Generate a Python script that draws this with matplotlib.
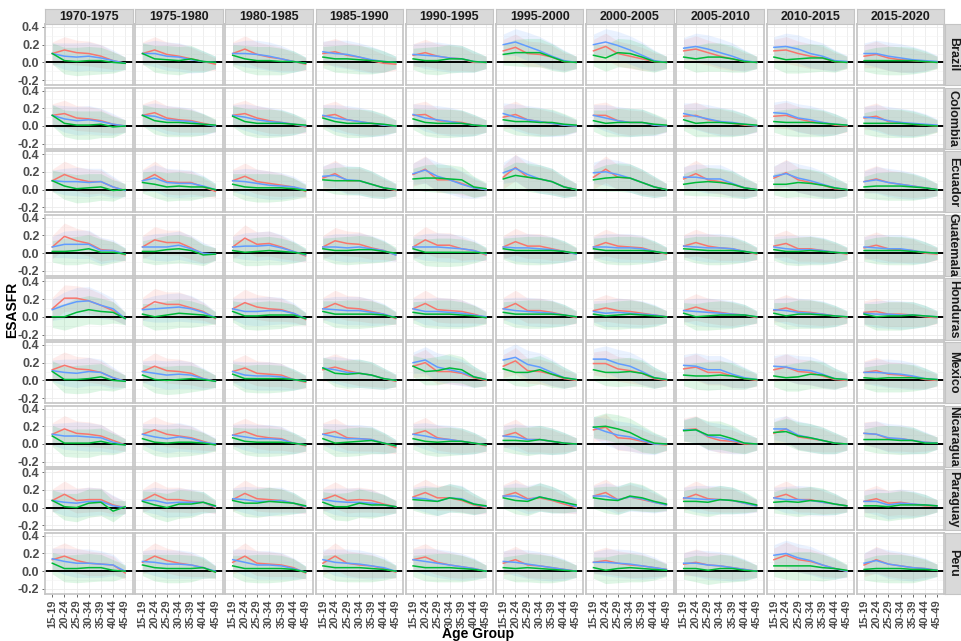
import numpy as np
import matplotlib.pyplot as plt

plt.rcParams['font.family'] = ['Liberation Sans', 'DejaVu Sans']

ages = ['15-19', '20-24', '25-29', '30-34', '35-39', '40-44', '45-49']
periods = ['1970-1975', '1975-1980', '1980-1985', '1985-1990', '1990-1995',
           '1995-2000', '2000-2005', '2005-2010', '2010-2015', '2015-2020']
countries = ['Brazil', 'Colombia', 'Ecuador', 'Guatemala', 'Honduras',
             'Mexico', 'Nicaragua', 'Paraguay', 'Peru']

# half width of the confidence ribbons, by age group
hw_red = [0.13, 0.15, 0.14, 0.14, 0.13, 0.10, 0.07]
hw_blue = [0.12, 0.15, 0.16, 0.16, 0.15, 0.12, 0.07]
hw_green = [0.12, 0.15, 0.16, 0.16, 0.15, 0.12, 0.07]

# one row per period, one value per age group
brazil_red = [
    [0.10, 0.14, 0.11, 0.10, 0.07, 0.02, -0.01],
    [0.10, 0.14, 0.09, 0.07, 0.04, 0.01, -0.02],
    [0.10, 0.15, 0.09, 0.06, 0.04, 0.01, -0.02],
    [0.10, 0.12, 0.08, 0.06, 0.02, -0.01, -0.02],
    [0.08, 0.11, 0.07, 0.05, 0.04, 0.00, 0.00],
    [0.13, 0.17, 0.10, 0.09, 0.06, 0.01, 0.00],
    [0.13, 0.18, 0.10, 0.07, 0.04, 0.01, 0.00],
    [0.13, 0.15, 0.11, 0.07, 0.04, 0.01, 0.00],
    [0.13, 0.14, 0.10, 0.07, 0.05, 0.01, 0.00],
    [0.07, 0.09, 0.05, 0.03, 0.02, 0.01, 0.00]]
brazil_blue = [
    [0.10, 0.07, 0.06, 0.07, 0.05, 0.02, -0.01],
    [0.10, 0.10, 0.07, 0.06, 0.03, 0.01, 0.00],
    [0.10, 0.10, 0.09, 0.07, 0.04, 0.01, -0.01],
    [0.12, 0.10, 0.09, 0.06, 0.03, 0.01, 0.00],
    [0.09, 0.08, 0.07, 0.05, 0.04, 0.01, 0.00],
    [0.20, 0.23, 0.18, 0.13, 0.07, 0.02, 0.00],
    [0.20, 0.23, 0.19, 0.14, 0.08, 0.02, 0.00],
    [0.16, 0.18, 0.15, 0.11, 0.07, 0.02, 0.00],
    [0.17, 0.18, 0.15, 0.10, 0.07, 0.02, 0.01],
    [0.10, 0.10, 0.07, 0.05, 0.03, 0.02, 0.01]]
brazil_green = [
    [0.10, 0.02, 0.01, 0.02, 0.02, 0.00, -0.01],
    [0.10, 0.04, 0.03, 0.02, 0.04, 0.01, 0.00],
    [0.08, 0.04, 0.02, 0.02, 0.01, 0.01, -0.01],
    [0.06, 0.04, 0.04, 0.03, 0.02, 0.01, 0.00],
    [0.04, 0.02, 0.02, 0.04, 0.04, 0.01, 0.00],
    [0.09, 0.11, 0.11, 0.11, 0.06, 0.01, 0.00],
    [0.08, 0.05, 0.11, 0.10, 0.06, 0.01, 0.00],
    [0.06, 0.04, 0.06, 0.06, 0.04, 0.01, 0.00],
    [0.06, 0.03, 0.04, 0.05, 0.05, 0.01, 0.00],
    [0.02, 0.02, 0.02, 0.02, 0.02, 0.01, 0.00]]

colombia_red = [
    [0.12, 0.14, 0.09, 0.08, 0.06, 0.02, 0.00],
    [0.12, 0.15, 0.09, 0.07, 0.06, 0.03, 0.00],
    [0.12, 0.14, 0.09, 0.06, 0.04, 0.02, -0.01],
    [0.11, 0.13, 0.07, 0.05, 0.03, 0.01, 0.00],
    [0.12, 0.13, 0.06, 0.05, 0.04, 0.01, 0.00],
    [0.10, 0.13, 0.07, 0.05, 0.03, 0.01, 0.00],
    [0.12, 0.12, 0.06, 0.04, 0.04, 0.01, 0.00],
    [0.11, 0.12, 0.07, 0.05, 0.03, 0.01, 0.00],
    [0.11, 0.12, 0.08, 0.05, 0.04, 0.01, 0.00],
    [0.09, 0.11, 0.05, 0.04, 0.02, 0.01, 0.00]]
colombia_blue = [
    [0.12, 0.08, 0.06, 0.07, 0.05, 0.02, 0.00],
    [0.12, 0.11, 0.07, 0.06, 0.05, 0.02, 0.00],
    [0.12, 0.10, 0.07, 0.05, 0.04, 0.02, 0.00],
    [0.12, 0.09, 0.07, 0.05, 0.03, 0.01, 0.00],
    [0.13, 0.09, 0.07, 0.05, 0.03, 0.01, 0.00],
    [0.14, 0.10, 0.07, 0.05, 0.03, 0.01, 0.00],
    [0.12, 0.09, 0.06, 0.04, 0.04, 0.01, 0.00],
    [0.14, 0.11, 0.08, 0.05, 0.04, 0.02, 0.00],
    [0.15, 0.14, 0.09, 0.07, 0.04, 0.02, 0.01],
    [0.10, 0.09, 0.06, 0.04, 0.03, 0.02, 0.01]]
colombia_green = [
    [0.12, 0.03, 0.01, 0.01, 0.02, -0.01, 0.00],
    [0.12, 0.06, 0.04, 0.04, 0.03, 0.02, 0.01],
    [0.11, 0.05, 0.03, 0.03, 0.03, 0.02, 0.01],
    [0.09, 0.05, 0.03, 0.03, 0.03, 0.02, 0.00],
    [0.08, 0.04, 0.03, 0.03, 0.03, 0.01, 0.00],
    [0.07, 0.05, 0.05, 0.04, 0.04, 0.02, 0.01],
    [0.06, 0.03, 0.04, 0.04, 0.04, 0.02, 0.01],
    [0.07, 0.03, 0.04, 0.04, 0.03, 0.02, 0.01],
    [0.05, 0.04, 0.04, 0.04, 0.03, 0.02, 0.01],
    [0.03, 0.03, 0.03, 0.03, 0.02, 0.01, 0.00]]

ecuador_red = [
    [0.10, 0.17, 0.12, 0.09, 0.09, 0.03, -0.01],
    [0.10, 0.17, 0.09, 0.08, 0.08, 0.03, -0.02],
    [0.10, 0.15, 0.09, 0.07, 0.05, 0.03, -0.02],
    [0.13, 0.18, 0.10, 0.10, 0.06, 0.02, -0.01],
    [0.17, 0.23, 0.11, 0.11, 0.07, 0.02, 0.00],
    [0.14, 0.25, 0.14, 0.12, 0.09, 0.03, 0.00],
    [0.14, 0.23, 0.14, 0.13, 0.08, 0.03, 0.00],
    [0.12, 0.18, 0.11, 0.09, 0.06, 0.02, 0.00],
    [0.13, 0.19, 0.11, 0.08, 0.05, 0.01, 0.00],
    [0.09, 0.12, 0.08, 0.06, 0.04, 0.02, 0.00]]
ecuador_blue = [
    [0.10, 0.09, 0.09, 0.08, 0.09, 0.03, -0.01],
    [0.10, 0.13, 0.08, 0.07, 0.07, 0.04, 0.00],
    [0.10, 0.09, 0.07, 0.05, 0.04, 0.03, 0.00],
    [0.15, 0.16, 0.11, 0.10, 0.06, 0.02, 0.00],
    [0.18, 0.22, 0.15, 0.11, 0.06, 0.02, 0.00],
    [0.19, 0.24, 0.17, 0.12, 0.09, 0.03, 0.00],
    [0.19, 0.20, 0.17, 0.13, 0.08, 0.03, 0.00],
    [0.14, 0.14, 0.12, 0.12, 0.07, 0.02, 0.00],
    [0.15, 0.18, 0.13, 0.10, 0.06, 0.02, 0.00],
    [0.09, 0.11, 0.08, 0.06, 0.04, 0.02, 0.00]]
ecuador_green = [
    [0.10, 0.04, 0.01, 0.02, 0.03, -0.01, 0.00],
    [0.08, 0.06, 0.03, 0.04, 0.03, 0.03, 0.00],
    [0.06, 0.03, 0.02, 0.02, 0.02, 0.01, -0.01],
    [0.11, 0.10, 0.10, 0.10, 0.06, 0.02, 0.00],
    [0.12, 0.13, 0.13, 0.12, 0.11, 0.03, 0.01],
    [0.12, 0.16, 0.14, 0.12, 0.09, 0.03, 0.00],
    [0.11, 0.13, 0.14, 0.13, 0.08, 0.03, 0.00],
    [0.06, 0.08, 0.09, 0.08, 0.06, 0.02, 0.00],
    [0.06, 0.06, 0.08, 0.07, 0.05, 0.02, 0.00],
    [0.03, 0.04, 0.04, 0.04, 0.03, 0.02, 0.00]]

guatemala_red = [
    [0.07, 0.19, 0.14, 0.11, 0.04, 0.03, -0.02],
    [0.07, 0.15, 0.12, 0.12, 0.06, -0.01, -0.01],
    [0.07, 0.17, 0.10, 0.11, 0.07, 0.02, -0.03],
    [0.07, 0.14, 0.11, 0.10, 0.06, 0.03, -0.02],
    [0.07, 0.15, 0.09, 0.09, 0.05, 0.03, -0.02],
    [0.07, 0.13, 0.08, 0.08, 0.05, 0.02, -0.01],
    [0.07, 0.12, 0.08, 0.07, 0.06, 0.02, -0.01],
    [0.08, 0.12, 0.08, 0.06, 0.05, 0.02, -0.01],
    [0.08, 0.11, 0.05, 0.05, 0.03, 0.01, -0.01],
    [0.06, 0.09, 0.05, 0.04, 0.03, 0.00, -0.01]]
guatemala_blue = [
    [0.07, 0.10, 0.10, 0.10, 0.03, 0.03, -0.01],
    [0.07, 0.07, 0.07, 0.09, 0.05, 0.00, -0.01],
    [0.07, 0.08, 0.08, 0.09, 0.06, 0.02, -0.02],
    [0.07, 0.07, 0.06, 0.07, 0.05, 0.03, -0.02],
    [0.07, 0.07, 0.07, 0.06, 0.05, 0.03, -0.01],
    [0.07, 0.06, 0.06, 0.05, 0.04, 0.02, -0.01],
    [0.07, 0.07, 0.06, 0.06, 0.05, 0.02, 0.00],
    [0.08, 0.07, 0.06, 0.06, 0.05, 0.02, 0.00],
    [0.07, 0.05, 0.04, 0.04, 0.03, 0.01, 0.00],
    [0.07, 0.06, 0.05, 0.05, 0.03, 0.01, 0.00]]
guatemala_green = [
    [0.02, 0.02, 0.03, 0.05, 0.01, 0.01, -0.01],
    [0.02, 0.02, 0.04, 0.05, 0.03, -0.02, -0.01],
    [0.03, 0.01, 0.02, 0.03, 0.02, 0.01, -0.01],
    [0.05, 0.03, 0.03, 0.04, 0.04, 0.02, 0.00],
    [0.05, 0.01, 0.01, 0.01, 0.01, 0.01, 0.00],
    [0.05, 0.03, 0.03, 0.03, 0.03, 0.02, 0.00],
    [0.05, 0.03, 0.03, 0.03, 0.03, 0.02, 0.00],
    [0.05, 0.04, 0.03, 0.03, 0.03, 0.02, 0.00],
    [0.04, 0.02, 0.02, 0.03, 0.02, 0.01, 0.00],
    [0.03, 0.03, 0.03, 0.03, 0.02, 0.01, 0.00]]

honduras_red = [
    [0.09, 0.21, 0.21, 0.18, 0.13, 0.07, -0.02],
    [0.09, 0.17, 0.14, 0.14, 0.10, 0.06, -0.02],
    [0.09, 0.16, 0.11, 0.09, 0.08, 0.04, -0.03],
    [0.09, 0.15, 0.10, 0.09, 0.06, 0.03, -0.02],
    [0.09, 0.15, 0.08, 0.07, 0.06, 0.03, -0.01],
    [0.09, 0.15, 0.07, 0.07, 0.05, 0.02, -0.01],
    [0.07, 0.10, 0.07, 0.06, 0.04, 0.02, 0.00],
    [0.07, 0.11, 0.07, 0.05, 0.03, 0.02, -0.01],
    [0.07, 0.10, 0.06, 0.05, 0.03, 0.01, -0.01],
    [0.05, 0.06, 0.03, 0.03, 0.02, 0.00, -0.01]]
honduras_blue = [
    [0.08, 0.13, 0.17, 0.18, 0.13, 0.09, -0.02],
    [0.08, 0.09, 0.10, 0.11, 0.09, 0.05, -0.01],
    [0.09, 0.06, 0.06, 0.07, 0.07, 0.04, -0.02],
    [0.09, 0.08, 0.07, 0.07, 0.05, 0.03, -0.01],
    [0.09, 0.06, 0.06, 0.05, 0.04, 0.02, 0.00],
    [0.09, 0.07, 0.06, 0.05, 0.04, 0.02, 0.00],
    [0.06, 0.04, 0.05, 0.04, 0.03, 0.02, 0.00],
    [0.07, 0.06, 0.05, 0.04, 0.03, 0.02, 0.00],
    [0.08, 0.07, 0.05, 0.04, 0.03, 0.01, 0.00],
    [0.04, 0.03, 0.03, 0.02, 0.02, 0.01, 0.00]]
honduras_green = [
    [0.00, 0.00, 0.05, 0.08, 0.06, 0.05, -0.02],
    [0.03, 0.00, 0.02, 0.04, 0.03, 0.02, -0.01],
    [0.06, 0.01, 0.01, 0.02, 0.02, 0.02, -0.02],
    [0.06, 0.03, 0.03, 0.03, 0.03, 0.02, -0.01],
    [0.05, 0.03, 0.03, 0.03, 0.02, 0.01, -0.01],
    [0.05, 0.03, 0.03, 0.03, 0.03, 0.02, 0.00],
    [0.03, 0.01, 0.02, 0.03, 0.02, 0.01, 0.00],
    [0.04, 0.00, 0.01, 0.02, 0.02, 0.02, 0.00],
    [0.04, 0.01, 0.03, 0.03, 0.02, 0.01, 0.00],
    [0.03, 0.00, 0.01, 0.01, 0.02, 0.01, 0.00]]

mexico_red = [
    [0.12, 0.17, 0.13, 0.12, 0.09, 0.03, -0.01],
    [0.10, 0.16, 0.11, 0.10, 0.08, 0.02, -0.01],
    [0.10, 0.14, 0.08, 0.07, 0.06, 0.01, -0.02],
    [0.12, 0.15, 0.11, 0.08, 0.06, 0.02, -0.01],
    [0.16, 0.20, 0.10, 0.10, 0.08, 0.03, 0.00],
    [0.16, 0.22, 0.11, 0.10, 0.07, 0.02, 0.00],
    [0.19, 0.19, 0.13, 0.11, 0.08, 0.02, 0.00],
    [0.13, 0.15, 0.09, 0.09, 0.05, 0.02, 0.00],
    [0.12, 0.15, 0.10, 0.09, 0.05, 0.01, 0.00],
    [0.09, 0.11, 0.07, 0.06, 0.04, 0.01, 0.00]]
mexico_blue = [
    [0.11, 0.09, 0.08, 0.10, 0.09, 0.03, -0.01],
    [0.10, 0.08, 0.06, 0.07, 0.06, 0.02, -0.01],
    [0.10, 0.06, 0.05, 0.05, 0.04, 0.01, -0.01],
    [0.14, 0.12, 0.09, 0.08, 0.06, 0.02, 0.00],
    [0.20, 0.23, 0.15, 0.12, 0.09, 0.04, 0.01],
    [0.23, 0.26, 0.18, 0.15, 0.09, 0.03, 0.01],
    [0.24, 0.24, 0.19, 0.16, 0.10, 0.03, 0.01],
    [0.17, 0.16, 0.12, 0.12, 0.07, 0.03, 0.01],
    [0.16, 0.15, 0.12, 0.11, 0.07, 0.02, 0.01],
    [0.09, 0.09, 0.08, 0.07, 0.05, 0.02, 0.01]]
mexico_green = [
    [0.10, 0.01, 0.01, 0.02, 0.04, 0.00, -0.01],
    [0.06, 0.01, 0.00, 0.01, 0.02, 0.01, -0.01],
    [0.07, 0.02, 0.02, 0.02, 0.02, 0.01, -0.01],
    [0.14, 0.08, 0.07, 0.08, 0.06, 0.02, 0.00],
    [0.16, 0.10, 0.11, 0.14, 0.12, 0.04, 0.01],
    [0.13, 0.09, 0.09, 0.12, 0.07, 0.03, 0.01],
    [0.12, 0.09, 0.09, 0.10, 0.08, 0.03, 0.01],
    [0.06, 0.05, 0.05, 0.06, 0.05, 0.02, 0.01],
    [0.05, 0.03, 0.04, 0.07, 0.06, 0.02, 0.01],
    [0.03, 0.02, 0.03, 0.03, 0.03, 0.02, 0.01]]

nicaragua_red = [
    [0.11, 0.17, 0.12, 0.11, 0.09, 0.04, -0.01],
    [0.11, 0.16, 0.11, 0.09, 0.07, 0.03, -0.01],
    [0.10, 0.14, 0.09, 0.07, 0.06, 0.01, -0.02],
    [0.11, 0.14, 0.07, 0.06, 0.05, 0.01, -0.04],
    [0.11, 0.15, 0.07, 0.05, 0.03, 0.01, -0.02],
    [0.09, 0.13, 0.05, 0.05, 0.03, 0.01, 0.00],
    [0.16, 0.19, 0.07, 0.06, 0.03, 0.00, -0.01],
    [0.16, 0.17, 0.08, 0.04, 0.03, 0.00, 0.00],
    [0.12, 0.17, 0.08, 0.06, 0.04, 0.01, 0.00],
    [0.12, 0.11, 0.06, 0.06, 0.04, 0.02, 0.01]]
nicaragua_blue = [
    [0.11, 0.09, 0.09, 0.08, 0.07, 0.02, -0.01],
    [0.11, 0.08, 0.06, 0.08, 0.06, 0.02, 0.00],
    [0.10, 0.08, 0.06, 0.06, 0.05, 0.01, -0.01],
    [0.11, 0.08, 0.06, 0.06, 0.05, 0.01, -0.02],
    [0.11, 0.09, 0.06, 0.05, 0.03, 0.01, -0.01],
    [0.09, 0.08, 0.05, 0.05, 0.03, 0.01, 0.00],
    [0.19, 0.14, 0.10, 0.08, 0.04, 0.00, 0.00],
    [0.16, 0.16, 0.09, 0.07, 0.04, 0.01, 0.00],
    [0.17, 0.17, 0.10, 0.07, 0.04, 0.01, 0.00],
    [0.12, 0.11, 0.07, 0.06, 0.04, 0.02, 0.01]]
nicaragua_green = [
    [0.09, 0.01, 0.01, 0.01, 0.03, 0.00, -0.01],
    [0.06, 0.02, 0.01, 0.02, 0.02, 0.01, -0.01],
    [0.07, 0.03, 0.02, 0.02, 0.02, 0.01, -0.01],
    [0.06, 0.01, 0.02, 0.03, 0.04, 0.01, -0.02],
    [0.06, 0.03, 0.02, 0.03, 0.03, 0.01, -0.01],
    [0.04, 0.04, 0.03, 0.05, 0.03, 0.01, 0.00],
    [0.19, 0.20, 0.17, 0.13, 0.06, 0.01, 0.00],
    [0.15, 0.16, 0.10, 0.10, 0.06, 0.01, 0.00],
    [0.13, 0.14, 0.09, 0.07, 0.04, 0.01, 0.00],
    [0.05, 0.05, 0.05, 0.04, 0.04, 0.01, 0.01]]

paraguay_red = [
    [0.08, 0.15, 0.08, 0.09, 0.09, 0.03, 0.00],
    [0.08, 0.15, 0.09, 0.09, 0.07, 0.06, 0.00],
    [0.09, 0.16, 0.10, 0.09, 0.08, 0.05, 0.00],
    [0.09, 0.14, 0.08, 0.09, 0.08, 0.04, 0.01],
    [0.12, 0.17, 0.11, 0.11, 0.08, 0.03, 0.00],
    [0.13, 0.17, 0.10, 0.11, 0.08, 0.04, 0.00],
    [0.13, 0.17, 0.09, 0.12, 0.09, 0.06, 0.03],
    [0.10, 0.15, 0.10, 0.09, 0.08, 0.05, 0.02],
    [0.11, 0.15, 0.09, 0.09, 0.06, 0.04, 0.02],
    [0.07, 0.10, 0.05, 0.06, 0.04, 0.02, 0.02]]
paraguay_blue = [
    [0.08, 0.06, 0.05, 0.07, 0.07, 0.02, 0.00],
    [0.08, 0.08, 0.05, 0.06, 0.06, 0.06, 0.01],
    [0.10, 0.09, 0.07, 0.07, 0.08, 0.05, 0.01],
    [0.09, 0.07, 0.06, 0.06, 0.05, 0.03, 0.01],
    [0.11, 0.10, 0.07, 0.11, 0.10, 0.04, 0.01],
    [0.13, 0.13, 0.09, 0.12, 0.09, 0.06, 0.01],
    [0.13, 0.13, 0.09, 0.12, 0.10, 0.06, 0.03],
    [0.11, 0.10, 0.09, 0.09, 0.08, 0.05, 0.02],
    [0.11, 0.09, 0.09, 0.08, 0.06, 0.04, 0.02],
    [0.07, 0.07, 0.03, 0.05, 0.04, 0.03, 0.02]]
paraguay_green = [
    [0.08, 0.01, 0.00, 0.05, 0.06, -0.04, 0.01],
    [0.07, 0.03, 0.00, 0.04, 0.04, 0.06, 0.02],
    [0.08, 0.05, 0.05, 0.07, 0.06, 0.05, 0.02],
    [0.06, 0.01, 0.01, 0.05, 0.03, 0.03, 0.01],
    [0.09, 0.08, 0.07, 0.11, 0.09, 0.04, 0.02],
    [0.11, 0.08, 0.07, 0.12, 0.09, 0.06, 0.03],
    [0.11, 0.09, 0.08, 0.13, 0.11, 0.07, 0.04],
    [0.07, 0.07, 0.06, 0.09, 0.08, 0.06, 0.03],
    [0.06, 0.07, 0.06, 0.08, 0.07, 0.04, 0.02],
    [0.02, 0.02, 0.01, 0.03, 0.03, 0.03, 0.02]]

peru_red = [
    [0.13, 0.17, 0.12, 0.09, 0.08, 0.07, -0.02],
    [0.10, 0.17, 0.12, 0.09, 0.07, 0.04, -0.01],
    [0.10, 0.17, 0.09, 0.08, 0.07, 0.04, -0.02],
    [0.09, 0.17, 0.09, 0.07, 0.06, 0.03, -0.01],
    [0.13, 0.16, 0.10, 0.07, 0.05, 0.03, 0.00],
    [0.09, 0.13, 0.07, 0.06, 0.04, 0.02, 0.00],
    [0.10, 0.12, 0.09, 0.07, 0.06, 0.04, 0.02],
    [0.08, 0.10, 0.07, 0.06, 0.04, 0.02, 0.00],
    [0.13, 0.18, 0.13, 0.11, 0.07, 0.03, 0.00],
    [0.07, 0.13, 0.08, 0.06, 0.04, 0.03, 0.01]]
peru_blue = [
    [0.14, 0.11, 0.09, 0.09, 0.08, 0.07, 0.00],
    [0.11, 0.10, 0.08, 0.08, 0.07, 0.04, 0.00],
    [0.13, 0.10, 0.07, 0.07, 0.06, 0.03, -0.01],
    [0.13, 0.10, 0.09, 0.08, 0.06, 0.04, 0.00],
    [0.13, 0.11, 0.09, 0.07, 0.05, 0.03, 0.00],
    [0.11, 0.10, 0.08, 0.06, 0.04, 0.02, 0.00],
    [0.10, 0.10, 0.09, 0.08, 0.06, 0.04, 0.02],
    [0.09, 0.09, 0.07, 0.06, 0.04, 0.02, 0.00],
    [0.18, 0.20, 0.15, 0.12, 0.07, 0.03, 0.00],
    [0.09, 0.12, 0.08, 0.06, 0.04, 0.03, 0.01]]
peru_green = [
    [0.09, 0.03, 0.03, 0.04, 0.04, 0.01, 0.00],
    [0.07, 0.04, 0.03, 0.03, 0.03, 0.04, -0.01],
    [0.06, 0.03, 0.03, 0.03, 0.03, 0.02, -0.01],
    [0.06, 0.04, 0.04, 0.04, 0.03, 0.02, 0.00],
    [0.06, 0.04, 0.04, 0.04, 0.03, 0.02, 0.00],
    [0.04, 0.03, 0.04, 0.03, 0.02, 0.01, 0.00],
    [0.04, 0.01, 0.03, 0.04, 0.03, 0.02, 0.01],
    [0.03, 0.03, 0.01, 0.03, 0.03, 0.01, 0.00],
    [0.06, 0.06, 0.06, 0.06, 0.04, 0.03, 0.01],
    [0.02, 0.03, 0.03, 0.03, 0.02, 0.02, 0.01]]

series = {
    'Brazil': (brazil_red, brazil_blue, brazil_green),
    'Colombia': (colombia_red, colombia_blue, colombia_green),
    'Ecuador': (ecuador_red, ecuador_blue, ecuador_green),
    'Guatemala': (guatemala_red, guatemala_blue, guatemala_green),
    'Honduras': (honduras_red, honduras_blue, honduras_green),
    'Mexico': (mexico_red, mexico_blue, mexico_green),
    'Nicaragua': (nicaragua_red, nicaragua_blue, nicaragua_green),
    'Paraguay': (paraguay_red, paraguay_blue, paraguay_green),
    'Peru': (peru_red, peru_blue, peru_green),
}
colors = ['#F8766D', '#619CFF', '#00BA38']
half_widths = [hw_red, hw_blue, hw_green]

# layout in pixels
W, H = 961, 641
x0, y0 = 45, 24
pw, ph = 87.5, 61.1
dx, dy = 90.2, 63.6
strip_h, strip_w = 15.5, 16

fig = plt.figure(figsize=(W / 100, H / 100), dpi=100)
x = np.arange(1, len(ages) + 1)
tick_col = '#4D4D4D'

for i, country in enumerate(countries):
    for j, period in enumerate(periods):
        left = x0 + j * dx
        top = y0 + i * dy
        ax = fig.add_axes([left / W, 1 - (top + ph) / H, pw / W, ph / H])
        for data, col, hw in zip(series[country], colors, half_widths):
            v = np.array(data[j])
            hw = np.array(hw)
            ax.fill_between(x, v - hw, v + hw, color=col, alpha=0.13, lw=0)
        ax.axhline(0, color='black', lw=1.4, zorder=2)
        for data, col in zip(series[country], colors):
            ax.plot(x, data[j], color=col, lw=1.1, zorder=3)
        ax.set_xlim(0.4, 7.6)
        ax.set_ylim(-0.256, 0.433)
        ax.set_xticks(x)
        ax.set_yticks([-0.2, 0.0, 0.2, 0.4])
        ax.set_yticks([-0.1, 0.1, 0.3], minor=True)
        ax.grid(True, which='major', color='#EBEBEB', lw=0.6)
        ax.grid(True, which='minor', axis='y', color='#F4F4F4', lw=0.4)
        ax.set_axisbelow(True)
        for sp in ax.spines.values():
            sp.set_color('#C4C4C4')
            sp.set_linewidth(1.2)
        ax.tick_params(which='major', length=2.5, width=0.6, color='#555555',
                       labelsize=9, labelcolor=tick_col, pad=1.5)
        ax.tick_params(which='minor', length=0)
        if j == 0:
            ax.set_yticklabels(['-0.2', '0.0', '0.2', '0.4'], fontweight='bold')
        else:
            ax.tick_params(axis='y', length=0, labelleft=False)
        if i == len(countries) - 1:
            ax.set_xticklabels(ages, rotation=90, fontweight='bold', fontsize=8)
        else:
            ax.tick_params(axis='x', length=0, labelbottom=False)

        # top strips
        if i == 0:
            sax = fig.add_axes([left / W, 1 - top / H, pw / W, strip_h / H])
            sax.set_facecolor('#D9D9D9')
            sax.set_xticks([])
            sax.set_yticks([])
            for sp in sax.spines.values():
                sp.set_color('#C4C4C4')
            sax.text(0.5, 0.45, period, ha='center', va='center',
                     fontsize=9, fontweight='bold', color='#1A1A1A',
                     transform=sax.transAxes)

    # right strips
    top = y0 + i * dy
    rax = fig.add_axes([(x0 + 9 * dx + pw + 0.5) / W, 1 - (top + ph) / H,
                        strip_w / W, ph / H])
    rax.set_facecolor('#D9D9D9')
    rax.set_xticks([])
    rax.set_yticks([])
    for sp in rax.spines.values():
        sp.set_color('#C4C4C4')
    rax.text(0.5, 0.5, country, ha='center', va='center', rotation=-90,
             fontsize=9, fontweight='bold', color='#1A1A1A',
             transform=rax.transAxes)

fig.text(12 / W, 1 - 310 / H, 'ESASFR', rotation=90, ha='center', va='center',
         fontsize=10, fontweight='bold')
fig.text(478 / W, 1 - 634 / H, 'Age Group', ha='center', va='center',
         fontsize=10, fontweight='bold')

fig.savefig('out.png', dpi=100)
